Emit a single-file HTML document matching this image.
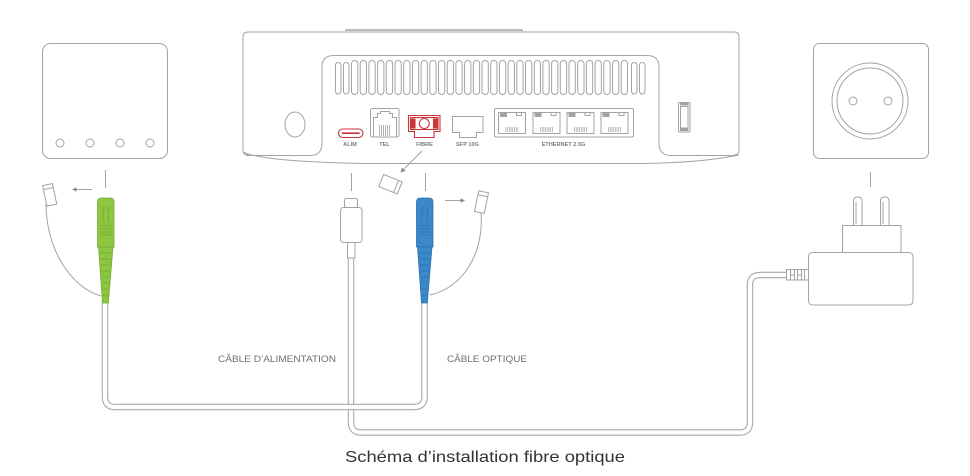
<!DOCTYPE html>
<html><head><meta charset="utf-8"><style>
html,body{margin:0;padding:0;background:#fff;}
svg{display:block;}
</style></head><body>
<svg width="970" height="476" viewBox="0 0 970 476" xmlns="http://www.w3.org/2000/svg">
<rect width="970" height="476" fill="#fff"/>
<g fill="none" stroke="#a3a3a3" stroke-width="1">
  <!-- ONT box -->
  <rect x="42.5" y="43.5" width="125" height="115" rx="8"/>
  <circle cx="60" cy="143" r="4"/><circle cx="90" cy="143" r="4"/><circle cx="120" cy="143" r="4"/><circle cx="150" cy="143" r="4"/>
  <!-- socket -->
  <rect x="813.5" y="43.5" width="115" height="115" rx="6"/>
  <circle cx="870" cy="101" r="38"/><circle cx="870" cy="101" r="33"/>
  <circle cx="853" cy="101" r="4"/><circle cx="888" cy="101" r="4"/>
  <!-- ticks -->
  <line x1="105.5" y1="170" x2="105.5" y2="188"/>
  <line x1="351.5" y1="173" x2="351.5" y2="191"/>
  <line x1="425.5" y1="173" x2="425.5" y2="191"/>
  <line x1="870.5" y1="172" x2="870.5" y2="187"/>
  <!-- router body -->
  <path d="M248 155 Q243 155 243 150 L243 37 Q243 32 248 32 L734 32 Q739 32 739 37 L739 150 Q739 155 734 155"/>
  <path d="M243 152 Q255 158 300 161 Q330 163 360 163.5 L640 163.5 Q700 163 739 155"/>
  <path d="M246 155.5 L310 155.5 Q322 155.5 322 143 L322 67 Q322 55.5 334 55.5 L647 55.5 Q659 55.5 659 67 L659 143 Q659 155.5 671 155.5 L736 155.5"/>
  <line x1="345" y1="30" x2="523" y2="30" stroke-width="1.6"/>
  <ellipse cx="295" cy="124.5" rx="10" ry="12.5"/>
  <!-- vents -->
  <rect x="335.5" y="62.5" width="5.5" height="31.5" rx="2.7"/>
  <rect x="343.5" y="62.5" width="5.5" height="31.5" rx="2.7"/>
  <rect x="631.5" y="62.5" width="5.5" height="31.5" rx="2.7"/>
  <rect x="639.5" y="62.5" width="5.5" height="31.5" rx="2.7"/>
  <g id="vents">
    <rect x="351.5" y="60.5" width="6.3" height="34" rx="3"/>
    <rect x="360.2" y="60.5" width="6.3" height="34" rx="3"/>
    <rect x="368.9" y="60.5" width="6.3" height="34" rx="3"/>
    <rect x="377.6" y="60.5" width="6.3" height="34" rx="3"/>
    <rect x="386.3" y="60.5" width="6.3" height="34" rx="3"/>
    <rect x="395.0" y="60.5" width="6.3" height="34" rx="3"/>
    <rect x="403.7" y="60.5" width="6.3" height="34" rx="3"/>
    <rect x="412.4" y="60.5" width="6.3" height="34" rx="3"/>
    <rect x="421.1" y="60.5" width="6.3" height="34" rx="3"/>
    <rect x="429.8" y="60.5" width="6.3" height="34" rx="3"/>
    <rect x="438.5" y="60.5" width="6.3" height="34" rx="3"/>
    <rect x="447.2" y="60.5" width="6.3" height="34" rx="3"/>
    <rect x="455.9" y="60.5" width="6.3" height="34" rx="3"/>
    <rect x="464.6" y="60.5" width="6.3" height="34" rx="3"/>
    <rect x="473.3" y="60.5" width="6.3" height="34" rx="3"/>
    <rect x="482.0" y="60.5" width="6.3" height="34" rx="3"/>
    <rect x="490.7" y="60.5" width="6.3" height="34" rx="3"/>
    <rect x="499.4" y="60.5" width="6.3" height="34" rx="3"/>
    <rect x="508.1" y="60.5" width="6.3" height="34" rx="3"/>
    <rect x="516.8" y="60.5" width="6.3" height="34" rx="3"/>
    <rect x="525.5" y="60.5" width="6.3" height="34" rx="3"/>
    <rect x="534.2" y="60.5" width="6.3" height="34" rx="3"/>
    <rect x="542.9" y="60.5" width="6.3" height="34" rx="3"/>
    <rect x="551.6" y="60.5" width="6.3" height="34" rx="3"/>
    <rect x="560.3" y="60.5" width="6.3" height="34" rx="3"/>
    <rect x="569.0" y="60.5" width="6.3" height="34" rx="3"/>
    <rect x="577.7" y="60.5" width="6.3" height="34" rx="3"/>
    <rect x="586.4" y="60.5" width="6.3" height="34" rx="3"/>
    <rect x="595.1" y="60.5" width="6.3" height="34" rx="3"/>
    <rect x="603.8" y="60.5" width="6.3" height="34" rx="3"/>
    <rect x="612.5" y="60.5" width="6.3" height="34" rx="3"/>
    <rect x="621.2" y="60.5" width="6.3" height="34" rx="3"/>
  </g>
  <!-- TEL -->
  <rect x="370.5" y="108.5" width="28.5" height="28.5" rx="2"/>
  <path d="M373.5 137 V117.5 H377.5 V113.5 H380.5 V111.5 H389.5 V113.5 H392.5 V117.5 H396.5 V137"/>
  <path d="M379.5 125 V136 M381.5 125 V136 M383.5 125 V136 M385.5 125 V136 M387.5 125 V136 M389.5 125 V136" stroke-width="0.8"/>
  <!-- SFP -->
  <path d="M452.5 116.5 H483 V132.5 H476.5 V137.5 H459.5 V132.5 H452.5 Z"/>
  <!-- Ethernet -->
  <rect x="494.5" y="108.5" width="139" height="28.5" rx="1.5"/>
  <g id="eth">
    <path d="M498.5 112.5 H525.5 V133.5 H498.5 Z M516.5 112.5 V115.5 H521.5 V112.5"/>
    <rect x="500.5" y="113.5" width="6" height="3" fill="#a3a3a3"/>
    <path d="M506 127 V132 M507.7 127 V132 M509.4 127 V132 M511.1 127 V132 M512.8 127 V132 M514.5 127 V132 M516.2 127 V132 M517.9 127 V132" stroke-width="0.7"/>
  </g>
  <use href="#eth" x="34.5"/>
  <use href="#eth" x="68.5"/>
  <use href="#eth" x="102.5"/>
  <!-- right slot -->
  <rect x="678.5" y="102.5" width="11.5" height="29.5" rx="1"/>
  <rect x="680.5" y="106.5" width="7.5" height="21.5"/>
  <rect x="680" y="103" width="8.5" height="2.5" fill="#a3a3a3" stroke="none"/>
  <rect x="680" y="128.5" width="8.5" height="2.5" fill="#a3a3a3" stroke="none"/>
</g>
<!-- red ports -->
<g fill="none" stroke="#c8363a" stroke-width="1.1">
  <rect x="338.5" y="129" width="24.5" height="8.5" rx="4.2"/>
  <line x1="342.5" y1="133.2" x2="359" y2="133.2" stroke-width="1.6" stroke-linecap="round"/>
  <path d="M408.5 115.5 H440 V131.5 H434 V137.5 H414.5 V131.5 H408.5 Z"/>
  <rect x="410.5" y="117.5" width="27.5" height="12"/>
  <circle cx="424.3" cy="123.5" r="5"/>
  <rect x="411.5" y="119" width="3.5" height="9" fill="#c8363a"/>
  <rect x="433.5" y="119" width="3.5" height="9" fill="#c8363a"/>
</g>
<!-- port labels -->
<g font-family="Liberation Sans, sans-serif" font-size="5.6" font-weight="bold" fill="#7a7a7a" text-anchor="middle">
  <text x="350" y="146">ALIM</text>
  <text x="384.5" y="146">TEL</text>
  <text x="424.5" y="146">FIBRE</text>
  <text x="467.5" y="146">SFP 10G</text>
  <text x="563.5" y="146">ETHERNET 2.5G</text>
</g>

<!-- cables -->
<g fill="none" stroke-linecap="butt" stroke-linejoin="round">
  <path d="M351 258 V422 Q351 432.5 361 432.5 H740 Q750 432.5 750 422 V285 Q750 275 760 275 H787" stroke="#a8a8a8" stroke-width="6.5"/>
  <path d="M351 258 V422 Q351 432.5 361 432.5 H740 Q750 432.5 750 422 V285 Q750 275 760 275 H787" stroke="#fff" stroke-width="4.3"/>
  <path d="M105 300 V397 Q105 407 115 407 H414 Q424.5 407 424.5 397 V300" stroke="#a8a8a8" stroke-width="6.5"/>
  <path d="M105 300 V397 Q105 407 115 407 H414 Q424.5 407 424.5 397 V300" stroke="#fff" stroke-width="4.3"/>
</g>

<g fill="none" stroke="#a3a3a3" stroke-width="1">
  <!-- thin tether curves -->
  <path d="M46 204 C46 250 72 288 101 296"/>
  <path d="M481 212 C484 255 462 288 430 295"/>
  <!-- caps -->
  <g transform="rotate(-12 49 194)"><rect x="44.5" y="184.5" width="10" height="21" fill="#fff"/><line x1="44.5" y1="188.5" x2="54.5" y2="188.5"/></g>
  <g transform="rotate(12 481 202)"><rect x="476.5" y="191.5" width="10" height="21" fill="#fff"/><line x1="476.5" y1="195.5" x2="486.5" y2="195.5"/></g>
  <g transform="rotate(22 390 184)"><rect x="380.5" y="177.5" width="20" height="13" fill="#fff"/><line x1="396.5" y1="177.5" x2="396.5" y2="190.5"/></g>
  <!-- arrows -->
  <line x1="92" y1="189.5" x2="75" y2="189.5"/>
  <line x1="445" y1="200.5" x2="462" y2="200.5"/>
  <line x1="422" y1="151" x2="403" y2="170"/>
  <!-- USB-C plug -->
  <rect x="344.5" y="198.5" width="13" height="9" rx="2" fill="#fff"/>
  <rect x="340.5" y="207.5" width="21.5" height="35" rx="3" fill="#fff"/>
  <rect x="347.5" y="242.5" width="7.5" height="15.5" fill="#fff"/>
  <!-- power adapter -->
  <path d="M853.5 225 V201 Q853.5 197 857.7 197 Q862 197 862 201 V225 M856 224 V202" fill="#fff"/>
  <path d="M880.5 225 V201 Q880.5 197 884.7 197 Q889 197 889 201 V225 M883 224 V202" fill="#fff"/>
  <rect x="842.5" y="225.5" width="58.5" height="27.5" fill="#fff"/>
  <rect x="808.5" y="252.5" width="104.5" height="52.5" rx="4" fill="#fff"/>
  <rect x="786.5" y="269.5" width="22" height="10.5" fill="#fff"/>
  <path d="M790.5 270 V280 M794.5 270 V280 M797.5 270 V280 M801.5 270 V280 M804.5 270 V280 M790.5 275 H794.5 M797.5 275 H801.5" stroke-width="1"/>
</g>
<g fill="#8a8a8a">
  <path d="M72 189.5 L76.5 187.3 L76.5 191.7 Z"/>
  <path d="M465 200.5 L460.5 198.3 L460.5 202.7 Z"/>
  <path d="M400.5 172.5 L402 167.6 L405.4 171 Z"/>
</g>

<!-- green connector -->
<g stroke="#74a83a" stroke-width="0.8">
  <path d="M97.5 247 V202 Q97.5 198 101.5 198 H110 Q114 198 114 202 V247 Z" fill="#8dc63f"/>
  <path d="M98.5 247 H113 L108.3 303 H102.5 Z" fill="#8dc63f"/>
  <path d="M103 222 V208 H108.5 V222 M100 226 H111.5 M100 229 H111.5 M100 232 H111.5 M100 235 H111.5 M100 253 H112 M100.5 259 H111.5 M101 265 H110.8 M101.5 271 H110.3 M102 277 H109.8 M102.3 283 H109.3 M102.5 289 H108.8 M102.7 295 H108.5" fill="none"/>
</g>
<!-- blue connector -->
<g stroke="#2f70ad" stroke-width="0.8">
  <path d="M416.5 247 V202 Q416.5 198 420.5 198 H429 Q433 198 433 202 V247 Z" fill="#3b88c8"/>
  <path d="M417.5 247 H432 L427.3 303 H421.5 Z" fill="#3b88c8"/>
  <path d="M422 222 V208 H427.5 V222 M419 226 H430.5 M419 229 H430.5 M419 232 H430.5 M419 235 H430.5 M419 253 H431 M419.5 259 H430.5 M420 265 H429.8 M420.5 271 H429.3 M421 277 H428.8 M421.3 283 H428.3 M421.5 289 H427.8 M421.7 295 H427.5" fill="none"/>
</g>

<!-- labels -->
<g font-family="Liberation Sans, sans-serif" font-size="9.5" fill="#707070">
  <text x="218" y="362" textLength="118" lengthAdjust="spacingAndGlyphs">CÂBLE D’ALIMENTATION</text>
  <text x="447" y="362" textLength="80" lengthAdjust="spacingAndGlyphs">CÂBLE OPTIQUE</text>
</g>
<text x="345" y="462" font-family="Liberation Sans, sans-serif" font-size="16" fill="#333" textLength="280" lengthAdjust="spacingAndGlyphs">Schéma d’installation fibre optique</text>
</svg>
</body></html>
